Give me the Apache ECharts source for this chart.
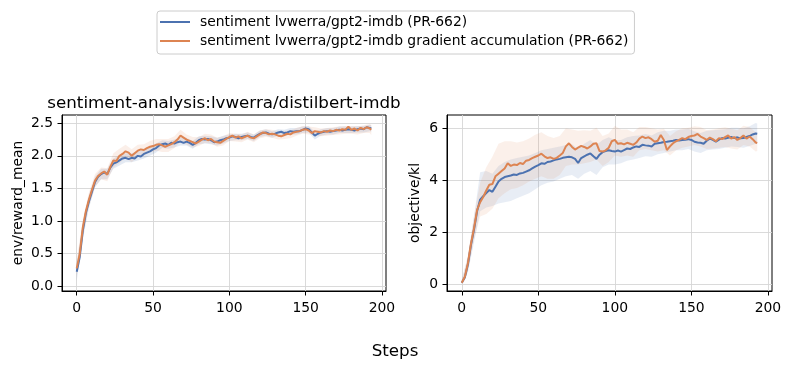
<!DOCTYPE html>
<html><head><meta charset="utf-8">
<script src="https://cdn.jsdelivr.net/npm/echarts@6/dist/echarts.min.js"></script>
<style>html,body{margin:0;padding:0;background:#fff}#c{width:790px;height:370px}</style>
</head><body><div id="c"></div>
<script>
// ---- data ----
const seriesNames = ['sentiment lvwerra/gpt2-imdb (PR-662)', 'sentiment lvwerra/gpt2-imdb gradient accumulation (PR-662)'];
const steps = [0,2,4,6,8,10,12,14,16,18,20,22,24,26,28,30,32,34,36,38,40,42,44,46,48,50,52,54,56,58,60,62,64,66,68,70,72,74,76,78,80,82,84,86,88,90,92,94,96,98,100,102,104,106,108,110,112,114,116,118,120,122,124,126,128,130,132,134,136,138,140,142,144,146,148,150,152,154,156,158,160,162,164,166,168,170,172,174,176,178,180,182,184,186,188,190,192,193];
const rewardBlue = [0.22,0.45,0.85,1.12,1.30,1.45,1.60,1.68,1.72,1.75,1.72,1.82,1.88,1.90,1.93,1.96,1.97,1.95,1.97,1.96,2.00,1.99,2.03,2.05,2.07,2.10,2.12,2.16,2.18,2.19,2.17,2.20,2.19,2.21,2.22,2.20,2.22,2.20,2.17,2.20,2.24,2.26,2.25,2.26,2.24,2.21,2.22,2.24,2.25,2.27,2.28,2.30,2.29,2.27,2.29,2.30,2.31,2.29,2.28,2.31,2.34,2.35,2.36,2.34,2.33,2.34,2.36,2.37,2.35,2.36,2.38,2.37,2.38,2.38,2.40,2.42,2.41,2.36,2.31,2.34,2.36,2.37,2.38,2.37,2.38,2.39,2.40,2.39,2.40,2.41,2.40,2.39,2.41,2.42,2.41,2.44,2.43,2.42];
const rewardOrange = [0.27,0.50,0.90,1.15,1.33,1.48,1.62,1.69,1.73,1.76,1.71,1.83,1.93,1.92,2.00,2.03,2.07,2.05,2.00,2.04,2.08,2.10,2.09,2.12,2.14,2.15,2.17,2.18,2.16,2.14,2.16,2.18,2.21,2.25,2.31,2.28,2.25,2.23,2.21,2.19,2.22,2.25,2.27,2.24,2.26,2.22,2.21,2.20,2.23,2.26,2.29,2.31,2.28,2.30,2.27,2.29,2.31,2.28,2.27,2.30,2.33,2.36,2.35,2.33,2.34,2.33,2.31,2.30,2.32,2.34,2.33,2.36,2.37,2.38,2.40,2.41,2.39,2.35,2.38,2.37,2.36,2.38,2.37,2.39,2.38,2.40,2.39,2.41,2.40,2.45,2.40,2.42,2.39,2.43,2.41,2.44,2.42,2.40];
const klBlue = [0.05,0.25,0.75,1.50,2.10,2.80,3.25,3.38,3.50,3.62,3.55,3.75,3.95,4.05,4.12,4.15,4.18,4.22,4.20,4.26,4.28,4.33,4.38,4.45,4.52,4.58,4.65,4.63,4.70,4.72,4.76,4.80,4.82,4.86,4.88,4.90,4.88,4.82,4.66,4.85,4.92,4.98,5.03,4.92,4.82,4.98,5.08,5.12,5.15,5.12,5.10,5.14,5.10,5.16,5.22,5.20,5.26,5.30,5.28,5.36,5.34,5.33,5.30,5.40,5.42,5.44,5.47,5.48,5.50,5.52,5.55,5.53,5.55,5.56,5.58,5.55,5.48,5.45,5.44,5.40,5.52,5.60,5.55,5.48,5.56,5.62,5.60,5.63,5.66,5.62,5.65,5.61,5.62,5.66,5.70,5.76,5.80,5.79];
const klOrange = [0.05,0.28,0.80,1.55,2.15,2.85,3.15,3.35,3.60,3.82,3.85,4.15,4.25,4.35,4.45,4.65,4.55,4.60,4.58,4.66,4.62,4.75,4.78,4.85,4.90,4.95,5.02,4.92,4.85,4.88,4.82,4.86,4.95,5.05,5.30,5.42,5.28,5.18,5.25,5.32,5.28,5.22,5.30,5.40,5.42,5.12,5.10,5.15,5.25,5.50,5.55,5.40,5.42,5.38,5.44,5.40,5.36,5.45,5.60,5.68,5.62,5.65,5.58,5.48,5.52,5.74,5.55,5.16,5.30,5.42,5.50,5.55,5.62,5.58,5.66,5.70,5.72,5.78,5.68,5.62,5.55,5.64,5.58,5.50,5.62,5.58,5.66,5.72,5.60,5.66,5.55,5.62,5.72,5.60,5.68,5.58,5.45,5.43];

const bandSteps = [0,4,8,12,16,20,24,28,32,36,40,44,48,52,56,60,64,68,72,76,80,84,88,92,96,100,104,108,112,116,120,124,128,132,136,140,144,148,152,156,160,164,168,172,176,180,184,188,192,193];
const rewardBlueLow = [0.08,0.72,1.20,1.52,1.64,1.64,1.80,1.85,1.90,1.90,1.93,1.96,2.00,2.05,2.12,2.11,2.13,2.16,2.16,2.11,2.18,2.19,2.18,2.16,2.19,2.23,2.24,2.24,2.26,2.23,2.29,2.31,2.28,2.31,2.30,2.33,2.33,2.35,2.36,2.25,2.31,2.33,2.33,2.35,2.35,2.35,2.36,2.36,2.38,2.37];
const rewardBlueHigh = [0.35,0.98,1.40,1.68,1.80,1.80,1.96,2.01,2.04,2.04,2.07,2.10,2.14,2.19,2.24,2.23,2.25,2.28,2.28,2.23,2.30,2.31,2.30,2.28,2.31,2.33,2.34,2.34,2.36,2.33,2.39,2.41,2.38,2.41,2.40,2.43,2.43,2.45,2.46,2.37,2.41,2.43,2.43,2.45,2.45,2.45,2.46,2.46,2.48,2.47];
const rewardOrangeLow = [0.15,0.78,1.22,1.52,1.64,1.61,1.82,1.89,1.97,1.90,1.99,2.00,2.05,2.08,2.06,2.06,2.12,2.22,2.17,2.13,2.15,2.20,2.19,2.14,2.16,2.23,2.22,2.21,2.25,2.21,2.27,2.29,2.28,2.25,2.26,2.27,2.31,2.34,2.33,2.32,2.30,2.31,2.32,2.33,2.34,2.34,2.33,2.35,2.35,2.32];
const rewardOrangeHigh = [0.40,1.02,1.44,1.72,1.82,1.81,2.04,2.11,2.17,2.10,2.17,2.18,2.23,2.26,2.26,2.26,2.30,2.40,2.33,2.29,2.29,2.34,2.33,2.28,2.30,2.35,2.34,2.33,2.37,2.33,2.39,2.41,2.40,2.37,2.38,2.39,2.43,2.46,2.45,2.44,2.42,2.43,2.44,2.45,2.46,2.46,2.45,2.47,2.49,2.48];
const klBlueLow = [0.00,0.45,1.60,2.80,2.95,3.00,3.10,3.15,3.20,3.30,3.40,3.50,3.65,3.80,3.90,3.95,4.05,4.15,4.20,4.05,4.25,4.35,4.20,4.50,4.60,4.60,4.65,4.75,4.80,4.85,4.92,4.90,5.00,5.05,5.10,5.15,5.15,5.20,5.10,5.05,5.15,5.18,5.20,5.25,5.30,5.28,5.25,5.32,5.40,5.38];
const klBlueHigh = [0.15,1.05,2.60,4.30,4.35,4.25,4.55,4.70,4.80,4.85,4.90,4.95,5.05,5.15,5.20,5.25,5.30,5.35,5.38,5.20,5.40,5.55,5.35,5.55,5.65,5.55,5.55,5.65,5.70,5.72,5.78,5.72,5.85,5.90,5.90,5.95,5.95,5.98,5.88,5.82,5.90,5.92,5.94,5.96,6.02,6.02,6.00,6.08,6.20,6.18];
const klOrangeLow = [0.00,0.50,1.70,2.60,2.70,2.90,3.30,3.50,3.65,3.70,3.80,3.95,4.05,4.15,4.05,4.05,4.20,4.55,4.60,4.60,4.65,4.70,4.80,4.55,4.70,4.95,4.90,4.95,4.90,5.15,5.20,5.15,5.10,5.15,4.95,5.15,5.25,5.30,5.35,5.30,5.20,5.22,5.25,5.28,5.22,5.18,5.35,5.30,5.10,5.12];
const klOrangeHigh = [0.15,1.10,2.65,3.90,4.50,4.90,5.40,5.50,5.50,5.45,5.50,5.60,5.75,5.85,5.70,5.62,5.70,6.00,5.95,5.90,5.92,5.90,6.02,5.70,5.80,6.10,5.95,5.95,5.85,6.05,6.05,6.00,5.95,5.98,5.70,5.88,6.00,6.02,6.08,6.05,5.92,5.95,6.00,6.04,5.98,5.92,6.10,6.05,5.85,5.80];

const xTicks = [0,50,100,150,200];
const rewardTicks = [0,0.5,1.0,1.5,2.0,2.5];
const klTicks = [0,2,4,6];
const titleText = 'sentiment-analysis:lvwerra/distilbert-imdb';
const xLabel = 'Steps';
const yLabels = ['env/reward_mean', 'objective/kl'];

// ---- styling ----
const BLUE = '#4c72b0', ORANGE = '#dd8452';
const FONT = 'DejaVu Sans';
const FS = 13.9, FST = 16.7;
const chart = echarts.init(document.getElementById('c'), null, {renderer: 'canvas'});

function zip(xs, ys) { return xs.map((x, i) => [x, ys[i]]); }

function band(name, gi, low, high, color) {
  const rows = bandSteps.map((s, i) => [s, low[i], high[i]]);
  return {
    type: 'custom', name: name + ' band', xAxisIndex: gi, yAxisIndex: gi,
    silent: true, z: 1, clip: true,
    data: rows,
    encode: {x: 0, y: [1, 2]},
    renderItem: function (params, api) {
      if (params.dataIndex !== 0) return null;
      const up = rows.map(r => api.coord([r[0], r[2]]));
      const lo = rows.map(r => api.coord([r[0], r[1]])).reverse();
      return {type: 'polygon', shape: {points: up.concat(lo)}, style: {fill: color}};
    }
  };
}

function line(name, gi, ys, color) {
  return {
    type: 'line', name: name, xAxisIndex: gi, yAxisIndex: gi,
    data: zip(steps, ys), symbol: 'none', showSymbol: false, z: 3,
    lineStyle: {color: color, width: 2}, itemStyle: {color: color},
    animation: false
  };
}

function xAxis(gi) {
  return {
    type: 'value', gridIndex: gi, min: -9.65, max: 202.65,
    axisLine: {show: true, onZero: false, lineStyle: {color: '#000', width: 1}},
    axisTick: {show: true, length: 4.5, lineStyle: {color: '#000', width: 1}, customValues: xTicks},
    axisLabel: {color: '#000', fontFamily: FONT, fontSize: FS, margin: 10, customValues: xTicks},
    splitLine: {show: true, lineStyle: {color: '#d6d6d6', width: 0.9}}
  };
}
function yAxis(gi, min, max, ticks, dec, name, gap) {
  return {
    type: 'value', gridIndex: gi, min: min, max: max,
    name: name, nameLocation: 'middle', nameGap: gap, nameRotate: 90,
    nameTextStyle: {color: '#000', fontFamily: FONT, fontSize: FS},
    axisLine: {show: true, onZero: false, lineStyle: {color: '#000', width: 1}},
    axisTick: {show: true, length: 4.5, lineStyle: {color: '#000', width: 1}, customValues: ticks},
    axisLabel: {color: '#000', fontFamily: FONT, fontSize: FS, margin: 9, customValues: ticks,
      formatter: v => v.toFixed(dec)},
    splitLine: {show: true, lineStyle: {color: '#d6d6d6', width: 0.9}}
  };
}

const option = {
  backgroundColor: '#fff',
  animation: false,
  textStyle: {fontFamily: FONT},
  title: [
    {text: titleText, left: 224, top: 95, textAlign: 'center', padding: 0,
     textStyle: {fontFamily: FONT, fontSize: FST, fontWeight: 'normal', color: '#000'}},
    {text: xLabel, left: 395, top: 343, textAlign: 'center', padding: 0,
     textStyle: {fontFamily: FONT, fontSize: FST, fontWeight: 'normal', color: '#000'}}
  ],
  legend: {
    data: seriesNames.map((n, i) => ({name: n, icon: 'rect', itemStyle: {color: i ? ORANGE : BLUE}})),
    orient: 'vertical', left: 157, top: 11,
    padding: [4, 6, 6, 3],
    itemWidth: 30, itemHeight: 2, itemGap: 5,
    backgroundColor: '#fff', borderColor: '#cccccc', borderWidth: 1, borderRadius: 3,
    textStyle: {fontFamily: FONT, fontSize: FS, color: '#000', padding: [0, 0, 0, 5]},
    selectedMode: false
  },
  grid: [
    {left: 62, top: 115, width: 324, height: 176, show: true, borderColor: '#000', borderWidth: 1, backgroundColor: 'transparent'},
    {left: 447, top: 115, width: 325, height: 176, show: true, borderColor: '#000', borderWidth: 1, backgroundColor: 'transparent'}
  ],
  xAxis: [xAxis(0), xAxis(1)],
  yAxis: [
    yAxis(0, -0.077, 2.628, rewardTicks, 1, yLabels[0], 37),
    yAxis(1, -0.27, 6.51, klTicks, 0, yLabels[1], 25)
  ],
  series: [
    band(seriesNames[0], 0, rewardBlueLow, rewardBlueHigh, 'rgba(76,114,176,0.15)'),
    band(seriesNames[1], 0, rewardOrangeLow, rewardOrangeHigh, 'rgba(221,132,82,0.13)'),
    band(seriesNames[0], 1, klBlueLow, klBlueHigh, 'rgba(76,114,176,0.13)'),
    band(seriesNames[1], 1, klOrangeLow, klOrangeHigh, 'rgba(221,132,82,0.12)'),
    line(seriesNames[0], 0, rewardBlue, BLUE),
    line(seriesNames[1], 0, rewardOrange, ORANGE),
    line(seriesNames[0], 1, klBlue, BLUE),
    line(seriesNames[1], 1, klOrange, ORANGE)
  ]
};
chart.setOption(option);
</script>
</body></html>
